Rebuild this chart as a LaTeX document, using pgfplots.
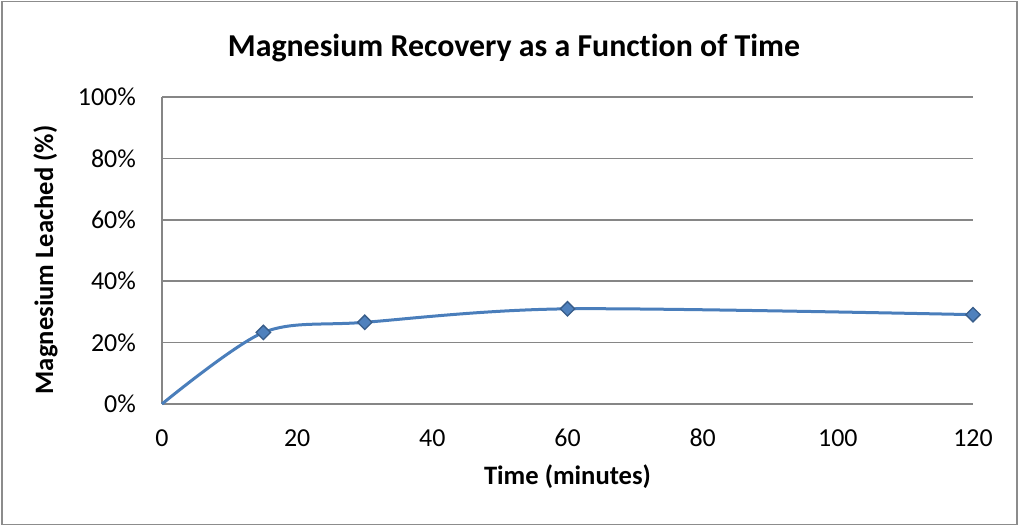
\documentclass[border=0pt]{standalone}
\usepackage{pgfplots}
\pgfplotsset{compat=1.18}
\usepackage{fontspec}
\setmainfont{Carlito}[Ligatures=CommonOff]
\definecolor{gridgray}{HTML}{868686}
\definecolor{framegray}{HTML}{8C8C8C}
\definecolor{lineblue}{HTML}{4A7EBB}
\definecolor{markfill}{HTML}{4F81BD}
\definecolor{markedge}{HTML}{385D8A}
\begin{document}
\begin{tikzpicture}[x=1bp,y=1bp]
\useasboundingbox (0,0) rectangle (1020,526);
\draw[color=framegray, line width=1.2bp] (2,1.5) rectangle (1017,524.5);
\begin{axis}[at={(162bp,122bp)}, anchor=south west, scale only axis,
  width=811bp, height=307bp,
  xmin=0, xmax=120, ymin=0, ymax=100,
  xtick={0,20,...,120}, ytick={0,20,...,100},
  yticklabels={0\%,20\%,40\%,60\%,80\%,100\%},
  axis lines*=left, axis line style={gridgray, line width=1.5bp},
  ymajorgrids, grid style={gridgray, line width=1.5bp},
  major tick length=0,
  tick label style={font=\fontsize{26}{30}\selectfont},
  /pgf/number format/assume math mode=true,
  xticklabel style={anchor=base, inner sep=0pt, yshift=-42.7bp},
  yticklabel style={anchor=east, inner sep=0pt, xshift=-26bp},
  clip=false]
\addplot[lineblue, line width=3bp, smooth, mark=square*, mark size=5.1bp,
  mark indices={2,3,4,5},
  mark options={rotate=45, fill=markfill, draw=markedge, line width=1.3bp}]
  coordinates {(0,0) (15,23.3) (30,26.6) (60,31.0) (120,29.1)};
\end{axis}
\node[anchor=base, font=\bfseries\fontsize{32}{38}\selectfont] at (514,469) {Magnesium Recovery as a Function of Time};
\node[anchor=base, font=\bfseries\fontsize{26.7}{32}\selectfont] at (567.5,41) {Time (minutes)};
\node[anchor=base, rotate=90, font=\bfseries\fontsize{26.7}{32}\selectfont] at (53,266) {Magnesium Leached (\%)};
\end{tikzpicture}
\end{document}
